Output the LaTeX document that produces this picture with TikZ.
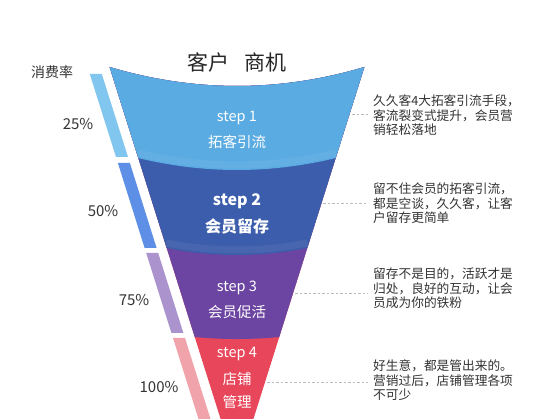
\documentclass[tikz,border=0pt]{standalone}
\usepackage{fontspec}
\setmainfont{Noto Sans CJK SC}
\definecolor{cone}{HTML}{5AABE2}
\definecolor{ctwo}{HTML}{3C5DAB}
\definecolor{cthree}{HTML}{6B45A1}
\definecolor{cfour}{HTML}{E8475B}
\definecolor{bone}{HTML}{80C6EE}
\definecolor{btwo}{HTML}{5E8FE6}
\definecolor{bthree}{HTML}{AB93CE}
\definecolor{bfour}{HTML}{F1A3AB}
\definecolor{txtgray}{HTML}{333333}
\definecolor{leadgray}{HTML}{BBBBBB}
\begin{document}
\begin{tikzpicture}[x=1pt,y=-1pt,
  steptxt/.style={text=white,inner sep=0pt,font=\fontsize{14.5}{16}\selectfont},
  stepbold/.style={text=white,inner sep=0pt,font=\fontsize{16}{18}\selectfont\bfseries},
  pct/.style={text=txtgray,inner sep=0pt,font=\fontsize{15}{17}\selectfont},
  desc/.style={text=txtgray,inner sep=0pt,anchor=north west,align=left,font=\fontsize{12.7}{14.2}\selectfont},
  leader/.style={draw=leadgray,line width=0.7pt,dash pattern=on 2.5pt off 2pt},
  hilite/.style={white,opacity=0.06,line width=7pt}
]
\fill[white] (0,0) rectangle (550,419);
\useasboundingbox (0,0) rectangle (550,419);

\begin{scope}
\clip (0,0) rectangle (550,419);
% side bars
\fill[bone] (89.8,74) -- (101.8,74) -- (128,157) -- (116,157) -- cycle;
\fill[btwo] (117.9,163) -- (129.9,163) -- (156.6,248) -- (144.6,248) -- cycle;
\fill[bthree] (146.2,253) -- (158.2,253) -- (183.4,333) -- (171.4,333) -- cycle;
\fill[bfour] (173,338) -- (185,338) -- (212.4,425) -- (200.4,425) -- cycle;
% funnel
\begin{scope}
\clip (109.6,67) .. controls (194.5,92.3) and (279.5,92.3) .. (364.4,67) -- (237,471) -- cycle;
\fill[cfour] (0,0) rectangle (550,430);
\fill[cthree] (0,0) -- (0,337) -- (194.7,337) .. controls (222.9,339.7) and (251.1,339.7) .. (279.3,337) -- (550,337) -- (550,0) -- cycle;
\fill[ctwo] (0,0) -- (0,248) -- (166.6,248) .. controls (213.5,257.3) and (260.5,257.3) .. (307.4,248) -- (550,248) -- (550,0) -- cycle;
\fill[cone] (0,0) -- (0,158) -- (138,158) .. controls (204,174) and (270,174) .. (336,158) -- (550,158) -- (550,0) -- cycle;
\draw[hilite] (138,153) .. controls (204,169) and (270,169) .. (336,153);
\draw[hilite] (166.6,243) .. controls (213.5,252.3) and (260.5,252.3) .. (307.4,243);
\end{scope}
\end{scope}

% title
\node[text=black!85,inner sep=0pt,font=\fontsize{21}{23}\selectfont] (title) at (237,62) {客户\hspace{0.7em}商机};
\node[text=txtgray,inner sep=0pt,font=\fontsize{14}{16}\selectfont] (rate) at (52,72) {消费率};

% percentages
\node[pct] (p1) at (78,124) {25\%};
\node[pct] (p2) at (103,211) {50\%};
\node[pct] (p3) at (134,300) {75\%};
\node[pct] (p4) at (159,387) {100\%};

% step labels
\node[steptxt] (s1a) at (237,118) {step 1};
\node[steptxt] (s1b) at (237,142) {拓客引流};
\node[stepbold] (s2a) at (237,201) {step 2};
\node[stepbold] (s2b) at (237,226) {会员留存};
\node[steptxt] (s3a) at (237,288) {step 3};
\node[steptxt] (s3b) at (237,312) {会员促活};
\node[steptxt] (s4a) at (237,354) {step 4};
\node[steptxt] (s4b) at (237,379) {店铺};
\node[steptxt] (s4c) at (237,402) {管理};

% descriptions
\node[desc] (d1) at (373,95) {久久客4大拓客引流手段，\\客流裂变式提升，会员营\\销轻松落地};
\node[desc] (d2) at (373,183) {留不住会员的拓客引流，\\都是空谈，久久客，让客\\户留存更简单};
\node[desc] (d3) at (373,268) {留存不是目的，活跃才是\\归处，良好的互动，让会\\员成为你的铁粉};
\node[desc] (d4) at (373,360) {好生意，都是管出来的。\\营销过后，店铺管理各项\\不可少};

% leaders
\coordinate (l1) at (352,114);
\coordinate (l2) at (323,203);
\coordinate (l3) at (295,293);
\coordinate (l4) at (267,382);
\draw[leader] (l1) -- ([xshift=-5pt]d1.west |- l1);
\draw[leader] (l2) -- ([xshift=-5pt]d2.west |- l2);
\draw[leader] (l3) -- ([xshift=-5pt]d3.west |- l3);
\draw[leader] (l4) -- ([xshift=-5pt]d4.west |- l4);
\end{tikzpicture}
\end{document}
